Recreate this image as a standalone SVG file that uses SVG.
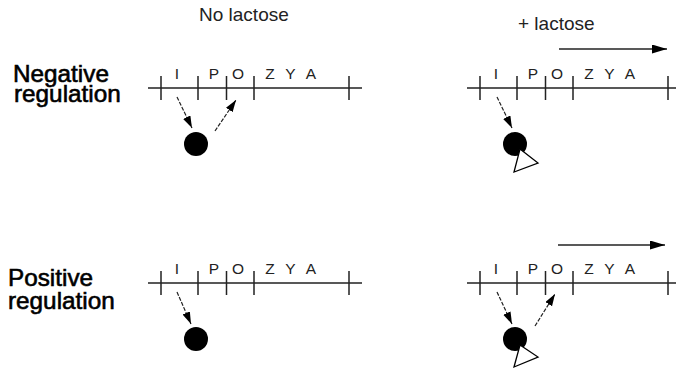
<svg xmlns="http://www.w3.org/2000/svg" width="676" height="375" viewBox="0 0 676 375">
<defs>
<style>
.t{font-family:"Liberation Sans",Arial,sans-serif;fill:#111}
.h{font-size:19px;fill:#222}
.g{font-size:24.3px;fill:#000;stroke:#000;stroke-width:0.6}
.l{font-size:15.5px;text-anchor:middle;fill:#222}
.ln{stroke:#222;stroke-width:1.5;fill:none}
.dash{stroke:#222;stroke-width:1.2;fill:none;stroke-dasharray:4 1.5}
.solid{stroke:#222;stroke-width:1.6;fill:none}
.prot{fill:#000}
.ind{fill:#fff;stroke:#000;stroke-width:1.3}
</style>
<marker id="ah" markerUnits="userSpaceOnUse" markerWidth="13" markerHeight="9" refX="12" refY="4" orient="auto">
<path d="M0,0 L12,4 L0,8 z" fill="#000"/>
</marker>
<marker id="ah2" markerUnits="userSpaceOnUse" markerWidth="16" markerHeight="10" refX="15" refY="4.5" orient="auto">
<path d="M0,0 L15,4.5 L0,9 z" fill="#000"/>
</marker>
<g id="operon">
<path class="ln" d="M148,0 H362 M161,-12 V12 M198,-12 V12 M226.5,-12 V12 M254,-12 V12 M349,-12 V12"/>
<text class="t l" x="177" y="-9.5">I</text>
<text class="t l" x="214" y="-9.5">P</text>
<text class="t l" x="238" y="-9.5">O</text>
<text class="t l" x="270" y="-9.5">Z</text>
<text class="t l" x="290.5" y="-9.5">Y</text>
<text class="t l" x="311" y="-9.5">A</text>
</g>
</defs>
<g id="labels">
<text class="t h" x="199" y="21">No lactose</text>
<text class="t h" x="518" y="30">+ lactose</text>
<text class="t g" x="13" y="82">Negative</text>
<text class="t g" x="14" y="102">regulation</text>
<text class="t g" x="8" y="286">Positive</text>
<text class="t g" x="8" y="309">regulation</text>
</g>
<g id="operon-neg-nolac"><use href="#operon" x="0" y="88"/></g>
<g id="operon-neg-lac"><use href="#operon" x="319" y="88"/></g>
<g id="operon-pos-nolac"><use href="#operon" x="0" y="283"/></g>
<g id="operon-pos-lac"><use href="#operon" x="319" y="283"/></g>
<g id="repressor-free"><circle class="prot" cx="196" cy="144" r="12"/></g>
<g id="repressor-bound"><circle class="prot" cx="515" cy="144" r="12"/><polygon class="ind" points="520,149 538,163 514,172"/></g>
<g id="activator-free"><circle class="prot" cx="196" cy="339" r="12"/></g>
<g id="activator-bound"><circle class="prot" cx="515" cy="339" r="12"/><polygon class="ind" points="520,345 538,357 514,367"/></g>
<g id="connectors">
<line class="dash" x1="177" y1="97" x2="192" y2="128" marker-end="url(#ah)"/>
<line class="dash" x1="215" y1="131" x2="236" y2="100" marker-end="url(#ah)"/>
<line class="dash" x1="497" y1="97" x2="512" y2="128" marker-end="url(#ah)"/>
<line class="dash" x1="177" y1="292" x2="191" y2="324" marker-end="url(#ah)"/>
<line class="dash" x1="497" y1="292" x2="512" y2="324" marker-end="url(#ah)"/>
<line class="dash" x1="535" y1="326" x2="555" y2="294" marker-end="url(#ah)"/>
<line class="solid" x1="559" y1="49" x2="667" y2="49" marker-end="url(#ah2)"/>
<line class="solid" x1="558" y1="245" x2="665" y2="245" marker-end="url(#ah2)"/>
</g>
</svg>
